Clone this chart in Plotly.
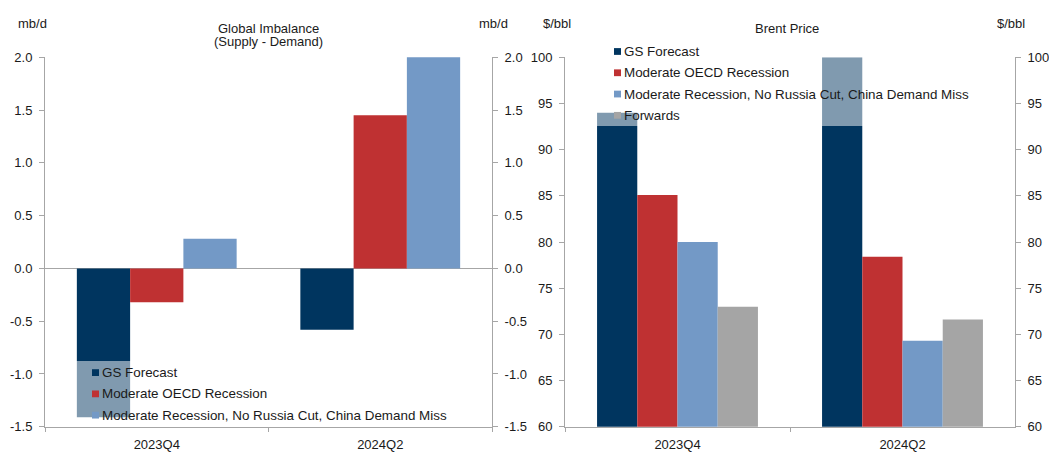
import plotly.graph_objects as go

# ---- data ----
quarters = ["2023Q4", "2024Q2"]

imbalance_series = ["GS Forecast", "Moderate OECD Recession",
                    "Moderate Recession, No Russia Cut, China Demand Miss"]
imb_gs = [-1.41, -0.58]
imb_oecd = [-0.32, 1.45]
imb_no_russia = [0.28, 2.02]

price_series = ["GS Forecast", "Moderate OECD Recession",
                "Moderate Recession, No Russia Cut, China Demand Miss", "Forwards"]
brent_gs = [94.0, 100.0]
brent_oecd = [85.1, 78.4]
brent_no_russia = [80.0, 69.3]
brent_forwards = [73.0, 71.6]

imb_ticks = [-1.5, -1.0, -0.5, 0.0, 0.5, 1.0, 1.5, 2.0]
imb_tick_labels = ["-1.5", "-1.0", "-0.5", "0.0", "0.5", "1.0", "1.5", "2.0"]
price_ticks = [60, 65, 70, 75, 80, 85, 90, 95, 100]
price_tick_labels = ["60", "65", "70", "75", "80", "85", "90", "95", "100"]

# ---- style ----
W, H = 1049, 457
NAVY, RED, BLUE, GREY = "#00355F", "#BF3132", "#7399C6", "#A5A5A5"
AXIS = "#A6A6A6"
TXT = "#1a1a1a"
FONT = "Liberation Sans, Arial, sans-serif"
FS = 13
FS_LEG = 13.4
colors = [NAVY, RED, BLUE, GREY]


def px(x):
    return x / W


def py(y):
    return 1 - y / H


fig = go.Figure()

for name, vals, c in zip(imbalance_series, [imb_gs, imb_oecd, imb_no_russia], colors):
    fig.add_trace(go.Bar(x=quarters, y=vals, name=name, marker=dict(color=c, line=dict(width=0)),
                         xaxis="x", yaxis="y", showlegend=False))

for name, vals, c in zip(price_series, [brent_gs, brent_oecd, brent_no_russia, brent_forwards], colors):
    fig.add_trace(go.Bar(x=quarters, y=vals, name=name, marker=dict(color=c, line=dict(width=0)),
                         xaxis="x2", yaxis="y3", showlegend=False))

left_dom = [px(45), px(492)]
right_dom = [px(565), px(1015)]
y_dom = [py(434), py(52)]

tickfont = dict(family=FONT, size=FS, color=TXT)
xcommon = dict(type="category", showline=True, linecolor=AXIS, linewidth=1,
               ticks="outside", ticklen=4, tickcolor=AXIS, tickson="boundaries",
               tickfont=tickfont, showgrid=False, zeroline=False, ticklabelstandoff=6,
               fixedrange=True)
ycommon = dict(showline=True, linecolor=AXIS, linewidth=1, ticks="outside", ticklen=5,
               tickcolor=AXIS, tickfont=tickfont, showgrid=False, ticklabelstandoff=4,
               fixedrange=True, tickmode="array")

fig.update_layout(
    width=W, height=H, autosize=False,
    margin=dict(l=0, r=0, t=0, b=0, pad=0),
    paper_bgcolor="white", plot_bgcolor="white",
    barmode="group", bargap=0.285, bargroupgap=0,
    showlegend=False,
    font=dict(family=FONT, size=FS, color=TXT),
    xaxis=dict(domain=left_dom, anchor="y", **xcommon),
    xaxis2=dict(domain=right_dom, anchor="y3", **xcommon),
    yaxis=dict(domain=y_dom, anchor="x", range=[-1.5, 2.0], tickvals=imb_ticks,
               ticktext=imb_tick_labels, zeroline=True, zerolinecolor=AXIS,
               zerolinewidth=1, **ycommon),
    yaxis2=dict(domain=y_dom, anchor="x", overlaying="y", side="right", matches="y",
                tickvals=imb_ticks, ticktext=imb_tick_labels, zeroline=False, **ycommon),
    yaxis3=dict(domain=y_dom, anchor="x2", range=[60, 100], tickvals=price_ticks,
                ticktext=price_tick_labels, zeroline=False, **ycommon),
    yaxis4=dict(domain=y_dom, anchor="x2", overlaying="y3", side="right", matches="y3",
                tickvals=price_ticks, ticktext=price_tick_labels, zeroline=False, **ycommon),
)

# the right-side axes need a trace to be drawn
fig.add_trace(go.Bar(x=quarters, y=[None, None], xaxis="x", yaxis="y2", showlegend=False,
                     hoverinfo="skip"))
fig.add_trace(go.Bar(x=quarters, y=[None, None], xaxis="x2", yaxis="y4", showlegend=False,
                     hoverinfo="skip"))

shapes = []
annotations = []

# translucent legend panels laid over the bars
shapes.append(dict(type="rect", xref="paper", yref="paper", x0=px(74), x1=px(452),
                   y0=py(430), y1=py(366), fillcolor="rgba(255,255,255,0.5)",
                   line=dict(width=0), layer="above"))
shapes.append(dict(type="rect", xref="paper", yref="paper", x0=px(594), x1=px(975),
                   y0=py(123), y1=py(36), fillcolor="rgba(255,255,255,0.5)",
                   line=dict(width=0), layer="above"))


def legend_rows(names, x_sq, x_txt, y0, step):
    for i, name in enumerate(names):
        yc = y0 + i * step
        shapes.append(dict(type="rect", xref="paper", yref="paper",
                           x0=px(x_sq), x1=px(x_sq + 7), y0=py(yc + 3.5), y1=py(yc - 3.5),
                           fillcolor=colors[i], line=dict(width=0), layer="above"))
        annotations.append(dict(text=name, xref="paper", yref="paper", x=px(x_txt), y=py(yc),
                                xanchor="left", yanchor="middle", showarrow=False,
                                font=dict(family=FONT, size=FS_LEG, color=TXT)))


legend_rows(imbalance_series, 92, 100, 378, 22)
legend_rows(price_series, 614, 622, 46, 22)


# panel titles and unit labels
def label(text, x, y, anchor="center"):
    annotations.append(dict(text=text, xref="paper", yref="paper", x=px(x), y=py(y),
                            xanchor=anchor, yanchor="middle", showarrow=False,
                            font=dict(family=FONT, size=FS, color=TXT)))


label("Global Imbalance", 268, 22)
label("(Supply - Demand)", 268, 36)
label("Brent Price", 787, 22)
label("mb/d", 32, 17)
label("mb/d", 493, 17)
label("$/bbl", 557, 17)
label("$/bbl", 1011, 17)

fig.update_layout(shapes=shapes, annotations=annotations)

fig.write_html("out.html", config={"displayModeBar": False})
